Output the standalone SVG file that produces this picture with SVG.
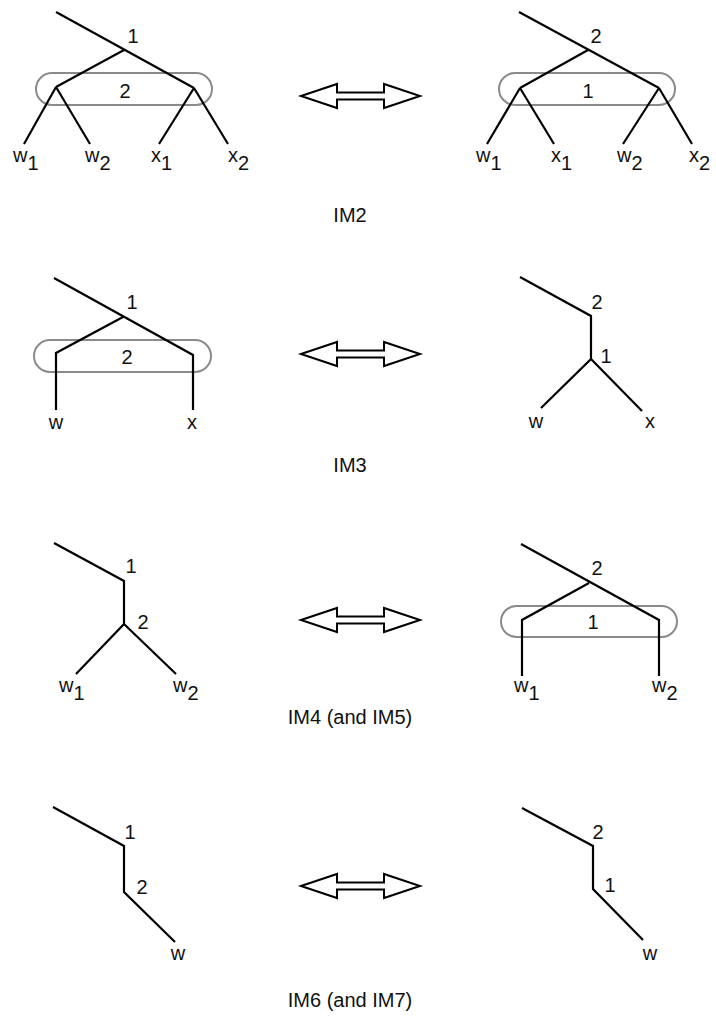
<svg xmlns="http://www.w3.org/2000/svg" width="716" height="1030" viewBox="0 0 716 1030">
<style>
.e{stroke:#000;stroke-width:2.2;fill:none;stroke-linejoin:miter}
.g{stroke:#8a8a8a;stroke-width:2;fill:none}
.a{stroke:#000;stroke-width:2;fill:#fff;stroke-linejoin:miter}
text{font-family:"Liberation Sans",Arial,sans-serif;font-size:20px;fill:#111}
.c{text-anchor:middle}
.cap{font-size:20px;text-anchor:middle}
</style>
<rect width="716" height="1030" fill="#fff"/>
<defs>
<path id="arr" d="M0,0 L36,-12 L36,-3.5 L83,-3.5 L83,-12 L119,0 L83,12 L83,3.5 L36,3.5 L36,12 Z"/>
</defs>

<!-- IM2 left -->
<g id="im2-left">
<rect class="g" x="36" y="73" width="176" height="32" rx="16"/>
<path class="e" d="M56,12 L194,88 M124,50 L56,87 M56,87 L24,144 M56,87 L90,144 M194,88 L159,144 M194,88 L228,144"/>
<text class="c" x="133" y="43">1</text>
<text class="c" x="125" y="98">2</text>
<text x="13" y="162">w<tspan dy="8">1</tspan></text>
<text x="85" y="162">w<tspan dy="8">2</tspan></text>
<text x="151" y="162">x<tspan dy="8">1</tspan></text>
<text x="228" y="162">x<tspan dy="8">2</tspan></text>
</g>

<!-- IM2 right -->
<g id="im2-right">
<rect class="g" x="499" y="73" width="176" height="32" rx="16"/>
<path class="e" d="M519,12 L659,88 M588,50 L520,88 M520,88 L487,144 M520,88 L554,144 M659,88 L623,144 M659,88 L692,144"/>
<text class="c" x="596" y="43">2</text>
<text class="c" x="588" y="98">1</text>
<text x="476" y="162">w<tspan dy="8">1</tspan></text>
<text x="551" y="162">x<tspan dy="8">1</tspan></text>
<text x="617" y="162">w<tspan dy="8">2</tspan></text>
<text x="689" y="162">x<tspan dy="8">2</tspan></text>
</g>

<!-- IM3 left -->
<g id="im3-left">
<rect class="g" x="34" y="340" width="177" height="32" rx="16"/>
<path class="e" d="M54,278 L193,355 L193,410 M123,317 L56,353 L56,410"/>
<text class="c" x="132" y="309">1</text>
<text class="c" x="127" y="364">2</text>
<text class="c" x="56" y="429">w</text>
<text class="c" x="192" y="429">x</text>
</g>

<!-- IM3 right -->
<g id="im3-right">
<path class="e" d="M520,277 L591,316 L591,359 L541,408 M591,359 L642,411"/>
<text class="c" x="597" y="309">2</text>
<text class="c" x="606" y="363">1</text>
<text class="c" x="536" y="428">w</text>
<text class="c" x="650" y="428">x</text>
</g>

<!-- IM4 left -->
<g id="im4-left">
<path class="e" d="M54,543 L124,581 L124,624 L76,674 M124,624 L176,674"/>
<text class="c" x="131" y="573">1</text>
<text class="c" x="143" y="629">2</text>
<text x="59" y="692">w<tspan dy="8">1</tspan></text>
<text x="173" y="692">w<tspan dy="8">2</tspan></text>
</g>

<!-- IM4 right -->
<g id="im4-right">
<rect class="g" x="501" y="606" width="176" height="31" rx="15.5"/>
<path class="e" d="M521,544 L659,620 L659,676 M589,583 L522,620 L522,676"/>
<text class="c" x="597" y="575">2</text>
<text class="c" x="593" y="629">1</text>
<text x="514" y="692">w<tspan dy="8">1</tspan></text>
<text x="652" y="692">w<tspan dy="8">2</tspan></text>
</g>

<!-- IM6 left -->
<g id="im6-left">
<path class="e" d="M53,807 L124,846 L124,892 L175,942"/>
<text class="c" x="130" y="839">1</text>
<text class="c" x="142" y="894">2</text>
<text class="c" x="178" y="960">w</text>
</g>

<!-- IM6 right -->
<g id="im6-right">
<path class="e" d="M522,808 L593,846 L593,889 L643,940"/>
<text class="c" x="598" y="839">2</text>
<text class="c" x="610" y="892">1</text>
<text class="c" x="650" y="960">w</text>
</g>

<!-- connectors: double arrows -->
<g id="connectors">
<use href="#arr" class="a" x="301" y="96"/>
<use href="#arr" class="a" x="301" y="354"/>
<use href="#arr" class="a" x="301" y="620"/>
<use href="#arr" class="a" x="301" y="886"/>
</g>

<!-- captions -->
<g id="captions">
<text class="cap" x="350" y="222">IM2</text>
<text class="cap" x="350" y="472">IM3</text>
<text class="cap" x="350" y="724">IM4 (and IM5)</text>
<text class="cap" x="350" y="1007">IM6 (and IM7)</text>
</g>
</svg>
